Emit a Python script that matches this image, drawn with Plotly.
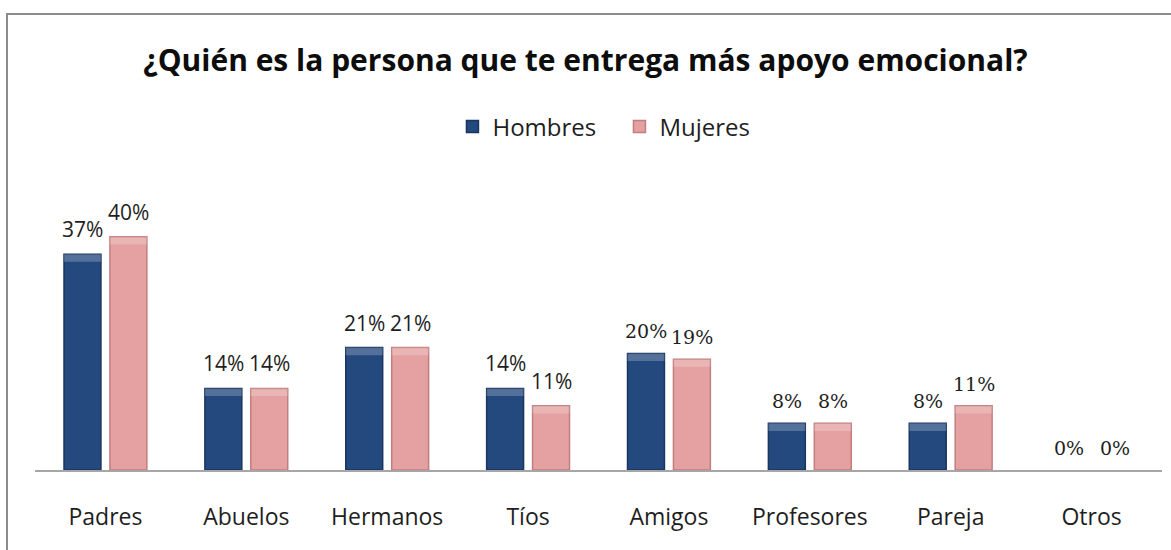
import plotly.graph_objects as go

# datos
categorias = ["Padres", "Abuelos", "Hermanos", "Tíos", "Amigos",
              "Profesores", "Pareja", "Otros"]
hombres = [37, 14, 21, 14, 20, 8, 8, 0]
mujeres = [40, 14, 21, 11, 19, 8, 11, 0]

SANS = "'Open Sans', Lato, sans-serif"
SERIF = "'DejaVu Serif', 'Liberation Serif', serif"

# en el original las etiquetas mezclan dos fuentes (Calibri / Cambria)
es_serif = [False, False, False, False, True, True, True, True]

W, H = 1171, 550
ML, MR, MT, MB = 35, 9, 170, 80
BISEL = 1.3  # alto del brillo superior, en unidades del eje

fig = go.Figure()

for nombre, serie, color, borde, grupo in [
        ("Hombres", hombres, "#23497F", "#1A3560", "h"),
        ("Mujeres", mujeres, "#E5A1A1", "#C27E7E", "m")]:
    fig.add_trace(go.Bar(
        name=nombre, x=categorias, y=serie, offsetgroup=grupo,
        marker=dict(color=color,
                    line=dict(color=borde,
                              width=[1.5 if v else 0 for v in serie])),
    ))
    # franja clara arriba, imitando el bisel de Excel
    fig.add_trace(go.Bar(
        x=categorias, y=[BISEL if v else 0 for v in serie],
        base=[v - BISEL if v else 0 for v in serie],
        offsetgroup=grupo, showlegend=False, hoverinfo="skip",
        marker=dict(color="rgba(255,255,255,0.22)", line=dict(width=0)),
    ))

# etiquetas de valor sobre cada barra
for serie, dx in [(hombres, -23), (mujeres, 23)]:
    for cat, v, serif in zip(categorias, serie, es_serif):
        fig.add_annotation(
            x=cat, y=v, text=f"{v}%", showarrow=False,
            xshift=dx, yshift=9, yanchor="bottom",
            font=dict(family=SERIF if serif else SANS,
                      size=19 if serif else 21, color="#1e1e1e"),
        )

# marco del gráfico (se sale por la derecha y por abajo)
pw = W - ML - MR
ph = H - MT - MB
fig.add_shape(type="rect", xref="paper", yref="paper",
              x0=(7 - ML) / pw, x1=(W + 20 - ML) / pw,
              y0=-(MB + 20) / ph, y1=(H - 14 - MB) / ph,
              line=dict(color="#8c8c8c", width=2), fillcolor="rgba(0,0,0,0)",
              layer="below")

fig.update_layout(
    width=W, height=H,
    margin=dict(l=ML, r=MR, t=MT, b=MB, autoexpand=False),
    paper_bgcolor="white", plot_bgcolor="white",
    title=dict(
        text="<b>¿Quién es la persona que te entrega más apoyo emocional?</b>",
        font=dict(family=SANS, size=30, color="#0d0d0d"),
        x=0.5, xanchor="center", xref="container",
        y=1 - 60 / H, yanchor="middle", yref="container",
    ),
    legend=dict(
        orientation="h", x=0.529, xanchor="center", xref="container",
        y=1 - 127 / H, yanchor="middle", yref="container",
        font=dict(family=SANS, size=24, color="#1e1e1e"),
        itemwidth=30, entrywidth=122, traceorder="normal",
    ),
    barmode="group",
    bargap=0.348,
    bargroupgap=0.196,
    showlegend=True,
    xaxis=dict(
        showline=True, linecolor="#A6A6A6", linewidth=2,
        showgrid=False, zeroline=False, ticks="",
        tickfont=dict(family=SANS, size=23, color="#1e1e1e"),
        ticklabelstandoff=25, automargin=False,
    ),
    yaxis=dict(
        range=[0, ph / 5.83], visible=False, showgrid=False, zeroline=False,
    ),
)

# sin el margen por defecto del <body>
fig.write_html("out.html", config={"displayModeBar": False},
               post_script="document.body.style.margin='0';")
